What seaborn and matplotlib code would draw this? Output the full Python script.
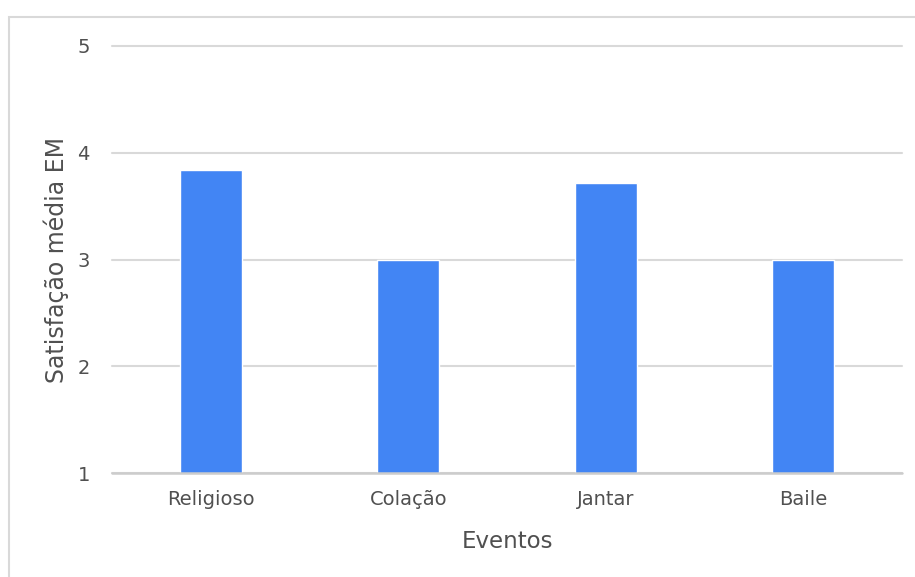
import matplotlib
matplotlib.use("Agg")
import matplotlib.pyplot as plt
import seaborn as sns
import pandas as pd
from matplotlib.patches import Rectangle

eventos = ["Religioso", "Colação", "Jantar", "Baile"]
satisfacao = [3.84, 3.0, 3.72, 3.0]

df = pd.DataFrame({"Eventos": eventos, "Satisfacao": satisfacao})

sns.set_theme(style="white")
plt.rcParams['font.family'] = ['DejaVu Sans']

txt = "#505050"
grid = "#d9d9d9"

fig = plt.figure(figsize=(9.15, 5.77), dpi=100)
ax = fig.add_axes([0.1224, 0.1802, 0.8634, 0.7401])

sns.barplot(data=df, x="Eventos", y="Satisfacao", color="#4285F4",
            width=0.315, saturation=1, ax=ax, zorder=3)

ax.set_ylim(1, 5)
ax.set_xlim(-0.5, 3.5)
ax.set_yticks([1, 2, 3, 4, 5])
ax.yaxis.grid(True, color=grid, linewidth=1.5, zorder=0)
for gl in ax.get_ygridlines():
    gl.set_clip_on(False)
ax.axhline(1, color="#cccccc", linewidth=1.8, zorder=4, clip_on=False)
for s in ax.spines.values():
    s.set_visible(False)
ax.tick_params(axis="both", length=0, labelsize=14, labelcolor=txt)
ax.tick_params(axis="y", pad=16)
ax.tick_params(axis="x", pad=12)
ax.set_xlabel("Eventos", fontsize=16.5, color=txt, labelpad=15)
ax.set_ylabel("Satisfação média EM", fontsize=17, color=txt, labelpad=6)

# moldura externa
fig.patches.append(Rectangle((9 / 915, -0.05), 1.0, 1 - 17 / 577 + 0.05,
                             transform=fig.transFigure, fill=False,
                             edgecolor=grid, linewidth=1.5))

fig.savefig("out.png", dpi=100)
